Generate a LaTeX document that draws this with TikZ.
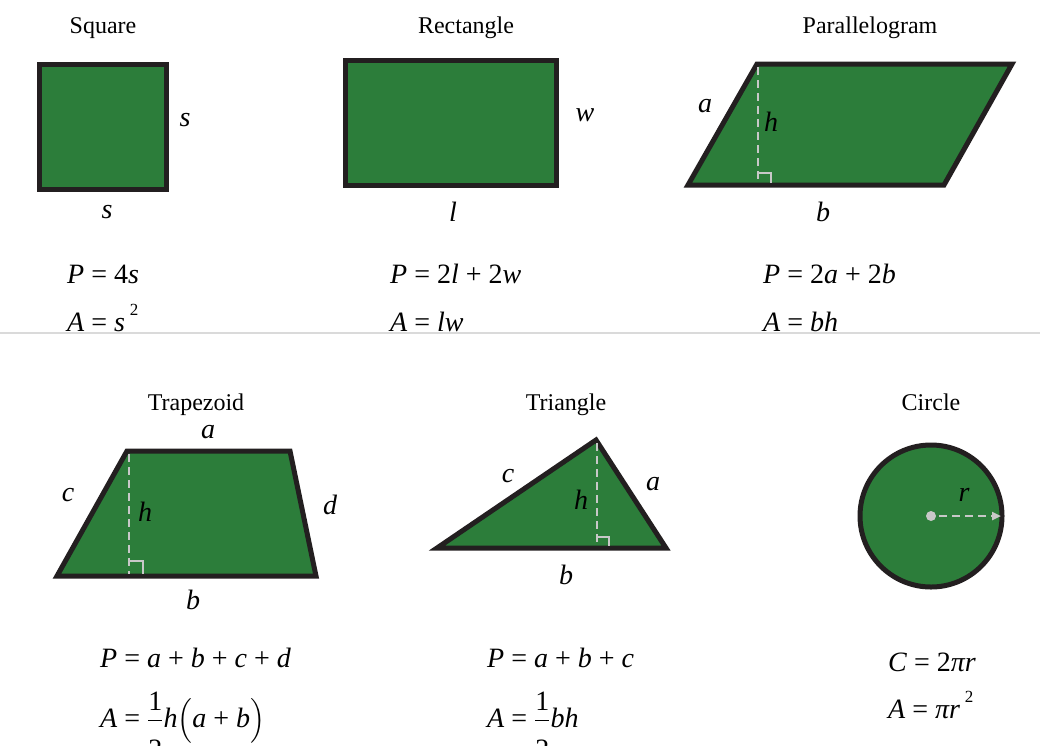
\documentclass[tikz,border=0pt]{standalone}
\usepackage{amsmath}
\usepackage{fontspec}
\setmainfont{Liberation Serif}
\usetikzlibrary{arrows.meta}

\definecolor{leafgreen}{RGB}{44,125,58}
\definecolor{edgeink}{RGB}{35,31,32}
\definecolor{dashgray}{RGB}{200,200,200}
\definecolor{rulegray}{RGB}{218,218,218}

\begin{document}
\begin{tikzpicture}[x=1pt, y=-1pt,
  areafill/.style={fill=leafgreen, draw=edgeink, line width=5pt, line join=miter},
  hgt/.style={draw=dashgray, line width=2.6pt, dash pattern=on 8pt off 5pt},
  rtmark/.style={draw=dashgray, line width=2.6pt},
  heading/.style={font=\fontsize{24}{26}\selectfont, anchor=base},
  lbl/.style={font=\fontsize{28}{30}\selectfont\itshape, inner sep=0pt},
  formula/.style={font=\fontsize{28}{30}\selectfont, anchor=base west, inner sep=0pt},
]
\useasboundingbox (0,0) rectangle (1040,745);
\clip (0,0) rectangle (1040,745);

% --- Separator ---
\draw[rulegray, line width=1.5pt] (0,333) -- (1040,333);

% --- Square ---
\node[heading] (tsquare) at (103,33) {Square};
\draw[areafill] (39,64) rectangle (166,189);
\node[lbl] (sqside) at (185,120) {s};
\node[lbl] (sqbase) at (107,212) {s};
\node[formula] (sqp) at (67,283) {\textit{P} = 4\textit{s}};
\node[formula] (sqa) at (67,331) {\textit{A} = \textit{s}\,\raisebox{0.55em}{\fontsize{17}{17}\selectfont 2}};

% --- Rectangle ---
\node[heading] (trect) at (466,33) {Rectangle};
\draw[areafill] (345,60) rectangle (556,185);
\node[lbl] (rectw) at (585,115) {w};
\node[lbl] (rectl) at (453,212) {l};
\node[formula] (rectp) at (390,283) {\textit{P} = 2\textit{l} + 2\textit{w}};
\node[formula] (recta) at (390,331) {\textit{A} = \textit{lw}};

% --- Parallelogram ---
\node[heading] (tpara) at (870,33) {Parallelogram};
\coordinate (pbl) at (688,185);
\coordinate (pbr) at (944,185);
\coordinate (ptr) at (1012,64);
\coordinate (ptl) at (757,64);
\draw[areafill] (pbl) -- (pbr) -- (ptr) -- (ptl) -- cycle;
\draw[hgt] (758,67) -- (758,183);
\draw[rtmark] (758,173) -- (771,173) -- (771,183);
\node[lbl] (paraa) at (705,106) {a};
\node[lbl] (parah) at (771,122) {h};
\node[lbl] (parab) at (823,212) {b};
\node[formula] (parap) at (763,283) {\textit{P} = 2\textit{a} + 2\textit{b}};
\node[formula] (paraa2) at (763,331) {\textit{A} = \textit{bh}};

% --- Trapezoid ---
\node[heading] (ttrap) at (196,410) {Trapezoid};
\coordinate (tbl) at (57,576);
\coordinate (tbr) at (316,576);
\coordinate (ttr) at (290,451);
\coordinate (ttl) at (127,451);
\draw[areafill] (tbl) -- (tbr) -- (ttr) -- (ttl) -- cycle;
\draw[hgt] (129,454) -- (129,574);
\draw[rtmark] (129,561) -- (143,561) -- (143,574);
\node[lbl] (trapa) at (208,432) {a};
\node[lbl] (trapc) at (68,495) {c};
\node[lbl] (trapd) at (330,505) {d};
\node[lbl] (traph) at (145,512) {h};
\node[lbl] (trapb) at (193,600) {b};
\node[formula] (trapp) at (100,667) {\textit{P} = \textit{a} + \textit{b} + \textit{c} + \textit{d}};
\node[formula] (trapar) at (100,727) {\textit{A} = $\dfrac{\text{1}}{\rule{0pt}{34pt}\text{2}}$\textit{h}$\Bigl($\textit{a} + \textit{b}$\Bigr)$};

% --- Triangle ---
\node[heading] (ttri) at (566,410) {Triangle};
\coordinate (rl) at (437,548);
\coordinate (rt) at (596,440);
\coordinate (rr) at (666,548);
\draw[areafill] (rl) -- (rt) -- (rr) -- cycle;
\draw[hgt] (597,443) -- (597,546);
\draw[rtmark] (597,537) -- (609,537) -- (609,546);
\node[lbl] (tric) at (508,476) {c};
\node[lbl] (tria) at (653,484) {a};
\node[lbl] (trih) at (581,500) {h};
\node[lbl] (trib) at (566,575) {b};
\node[formula] (trip) at (487,667) {\textit{P} = \textit{a} + \textit{b} + \textit{c}};
\node[formula] (triar) at (487,727) {\textit{A} = $\dfrac{\text{1}}{\rule{0pt}{34pt}\text{2}}$\textit{bh}};

% --- Circle ---
\node[heading] (tcirc) at (931,410) {Circle};
\coordinate (cc) at (931,516);
\draw[areafill] (cc) circle[radius=71];
\fill[dashgray] (cc) circle[radius=5];
\coordinate (cedge) at (1001,516);
\draw[hgt, -{Triangle[length=9pt, width=8pt]}] ([xshift=8pt]cc) -- (cedge);
\node[lbl] (circr) at (964,495) {r};
\node[formula] (circc) at (888,671) {\textit{C} = 2\textit{πr}};
\node[formula] (circa) at (888,718) {\textit{A} = \textit{πr}\,\raisebox{0.55em}{\fontsize{17}{17}\selectfont 2}};
\end{tikzpicture}
\end{document}
